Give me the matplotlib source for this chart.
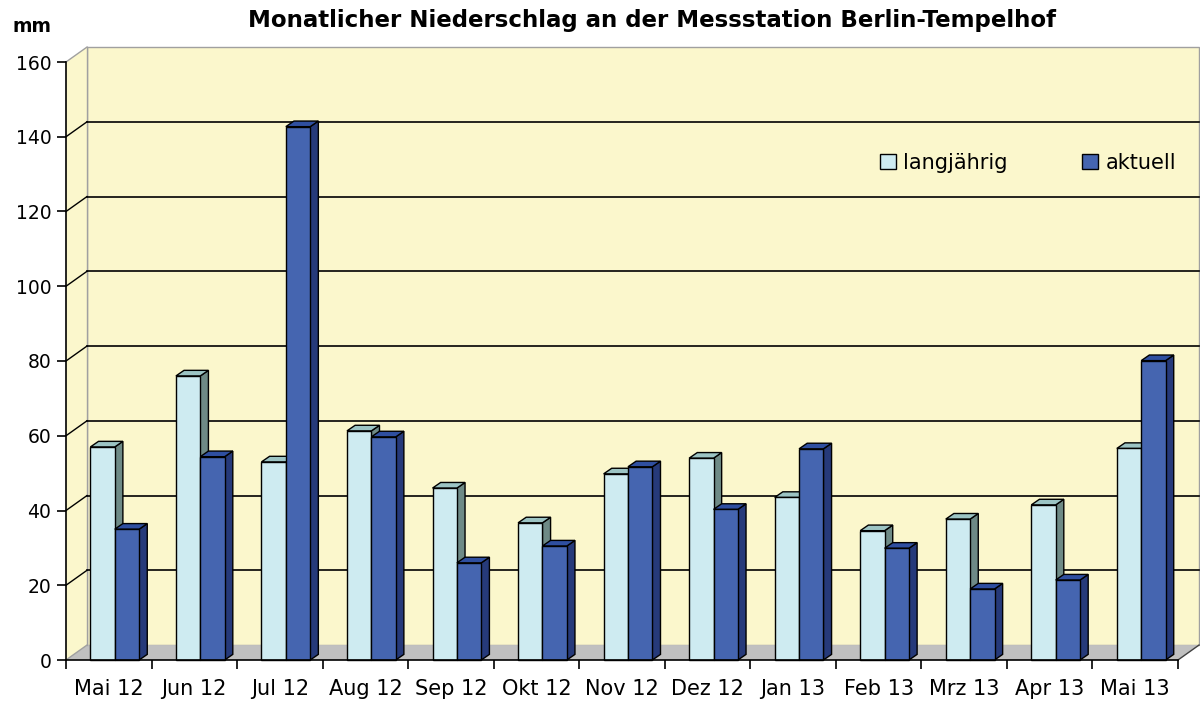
import numpy as np
import matplotlib
matplotlib.use("Agg")
import matplotlib.pyplot as plt
from matplotlib.patches import Polygon, Patch

months = ["Mai 12", "Jun 12", "Jul 12", "Aug 12", "Sep 12", "Okt 12", "Nov 12",
          "Dez 12", "Jan 13", "Feb 13", "Mrz 13", "Apr 13", "Mai 13"]
langjaehrig = [57, 76, 53, 61.3, 46, 36.7, 49.8, 54, 43.5, 34.6, 37.7, 41.5, 56.6]
aktuell = [35, 54.4, 142.7, 59.7, 26, 30.5, 51.7, 40.3, 56.5, 29.9, 19, 21.4, 80.1]
yticks = [0, 20, 40, 60, 80, 100, 120, 140, 160]

wall = "#fbf7cc"
floor = "#c0c0c0"
light = ("#ceebf1", "#6e8a86", "#9cc4c4")   # front, side, top
dark = ("#4565b0", "#263a7a", "#2f4fa0")

fig = plt.figure(figsize=(12, 7.04), dpi=100)
ax = fig.add_axes([66 / 1200, 44 / 704, 1112 / 1200, 598 / 704])
ax.set_xlim(0, 13)
ax.set_ylim(0, 160)
ax.patch.set_visible(False)

# depth of the back wall in data units
dx, dy = 0.2455, 4.0
n = len(months)

ax.add_patch(Polygon([(dx, dy), (n + dx, dy), (n + dx, 160 + dy), (dx, 160 + dy)],
                     closed=True, fc=wall, ec="#a0a0a0", lw=1, clip_on=False, zorder=0))
ax.add_patch(Polygon([(0, 0), (dx, dy), (dx, 160 + dy), (0, 160)],
                     closed=True, fc=wall, ec="none", clip_on=False, zorder=0))
ax.add_patch(Polygon([(0, 0), (n, 0), (n + dx, dy), (dx, dy)],
                     closed=True, fc=floor, ec="none", clip_on=False, zorder=0.5))
ax.plot([n, n + dx], [0, dy], color="#404040", lw=1, clip_on=False, zorder=0.6)
ax.plot([dx, dx], [dy, 160 + dy], color="#a0a0a0", lw=1, clip_on=False, zorder=0.6)

for y in yticks[1:-1]:
    ax.plot([dx, n + dx], [y + dy, y + dy], color="black", lw=1.2, clip_on=False, zorder=1)
    ax.plot([0, dx], [y, y + dy], color="black", lw=1, clip_on=False, zorder=1)
ax.plot([0, dx], [160, 160 + dy], color="#a0a0a0", lw=1, clip_on=False, zorder=1)
ax.plot([0, dx], [0, dy], color="#a0a0a0", lw=1, clip_on=False, zorder=1)

bw = 0.285
bdx, bdy = 0.095, 1.5


def bar3d(x0, h, cols, z):
    x1 = x0 + bw
    ax.add_patch(Polygon([(x1, 0), (x1 + bdx, bdy), (x1 + bdx, h + bdy), (x1, h)],
                         closed=True, fc=cols[1], ec="black", lw=1, zorder=z, clip_on=False))
    ax.add_patch(Polygon([(x0, h), (x0 + bdx, h + bdy), (x1 + bdx, h + bdy), (x1, h)],
                         closed=True, fc=cols[2], ec="black", lw=1, zorder=z, clip_on=False))
    ax.add_patch(Polygon([(x0, 0), (x1, 0), (x1, h), (x0, h)],
                         closed=True, fc=cols[0], ec="black", lw=1, zorder=z + 0.1, clip_on=False))


for i in range(n):
    bar3d(i + 0.285, langjaehrig[i], light, 2 + i * 0.5)
    bar3d(i + 0.285 + bw, aktuell[i], dark, 2.25 + i * 0.5)

for s in ["top", "right"]:
    ax.spines[s].set_visible(False)
ax.spines["left"].set_linewidth(1.2)
ax.spines["bottom"].set_linewidth(1.2)
ax.spines["left"].set_zorder(20)
ax.spines["bottom"].set_zorder(20)

ax.set_yticks(yticks)
ax.tick_params(axis="y", direction="out", length=6.5, width=1.2, pad=4, labelsize=13.5)
ax.set_xticks(np.arange(n + 1))
ax.set_xticklabels([])
ax.set_xticks(np.arange(n) + 0.5, minor=True)
ax.set_xticklabels(months, minor=True)
ax.tick_params(axis="x", which="major", direction="out", length=6.5, width=1.2)
ax.tick_params(axis="x", which="minor", length=0, pad=14, labelsize=15)

fig.text(0.5435, 1 - 20 / 704, "Monatlicher Niederschlag an der Messstation Berlin-Tempelhof",
         ha="center", va="center", fontsize=16.5, fontweight="bold")
fig.text(12 / 1200, 1 - 27 / 704, "mm", ha="left", va="center", fontsize=13.5, fontweight="bold")

handles = [Patch(fc=light[0], ec="black", lw=1, label="langjährig"),
           Patch(fc=dark[0], ec="black", lw=1, label="aktuell")]
fig.legend(handles=handles, ncol=2, frameon=False, loc="center",
           bbox_to_anchor=(1028 / 1200, 1 - 163 / 704), fontsize=15,
           handlelength=0.75, handleheight=0.75, handletextpad=0.35, columnspacing=3.6)

fig.savefig("out.png", dpi=100)
